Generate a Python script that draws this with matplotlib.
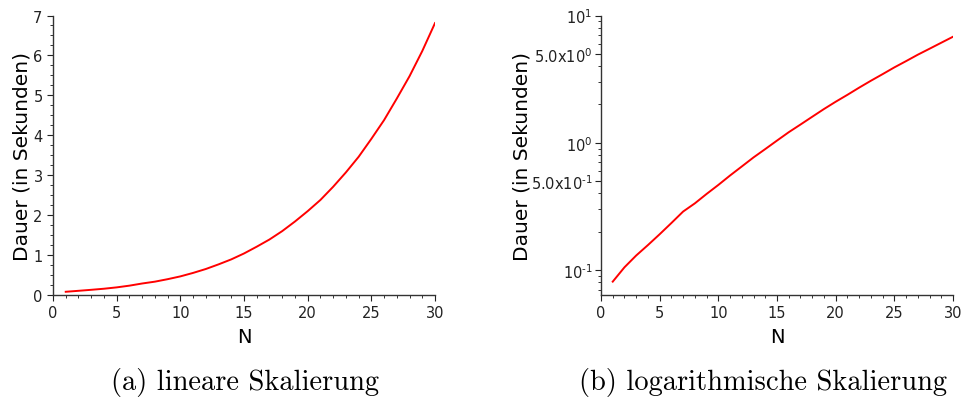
import numpy as np
import matplotlib
matplotlib.use('Agg')
import matplotlib.pyplot as plt
from matplotlib.ticker import FixedLocator, FixedFormatter, MultipleLocator

# Laufzeit in Sekunden fuer N = 1..30
N = np.arange(1, 31)
dauer = [0.081, 0.105, 0.130, 0.157, 0.191, 0.234, 0.288, 0.334, 0.396, 0.466,
         0.553, 0.651, 0.767, 0.892, 1.04, 1.21, 1.39, 1.60, 1.84, 2.10,
         2.38, 2.71, 3.07, 3.46, 3.91, 4.38, 4.92, 5.48, 6.11, 6.81]

log_ticks = [0.1, 0.5, 1, 5, 10]
log_labels = ['$10^{\u20101}$', '5.0x$10^{\u20101}$', '$10^{0}$', '5.0x$10^{0}$', '$10^{1}$']
captions = ['(a) lineare Skalierung', '(b) logarithmische Skalierung']

fig = plt.figure(figsize=(9.62, 4.02), dpi=100)
W, H = 962., 402.
ax1 = fig.add_axes([53/W, 1-296/H, (435-53)/W, (296-16.5)/H])
ax2 = fig.add_axes([601/W, 1-296/H, (953-601)/W, (296-16.5)/H])

def style(ax):
    for s in ['top', 'right']:
        ax.spines[s].set_visible(False)
    for s in ['left', 'bottom']:
        ax.spines[s].set_color('#333333')
        ax.spines[s].set_linewidth(1.0)
    ax.tick_params(which='major', direction='out', length=4, width=0.8,
                   labelsize=10.5, colors='#222222')
    ax.tick_params(which='minor', direction='out', length=2.5, width=0.7, colors='#333333')
    ax.set_xlim(0, 30)
    ax.xaxis.set_major_locator(MultipleLocator(5))
    ax.xaxis.set_minor_locator(MultipleLocator(1))
    ax.set_xlabel('N', fontsize=14, labelpad=5)
    ax.set_ylabel('Dauer (in Sekunden)', fontsize=14.5)

ax1.plot(N, dauer, color='red', lw=1.4)
ax1.set_ylim(0, 7)
ax1.yaxis.set_major_locator(MultipleLocator(1))
ax1.yaxis.set_minor_locator(MultipleLocator(0.25))
style(ax1)
ax1.yaxis.set_label_coords((32-53)/382., 0.5)

ax2.plot(N, dauer, color='red', lw=1.4)
ax2.set_yscale('log')
ax2.set_ylim(0.0636, 10)
ax2.yaxis.set_major_locator(FixedLocator(log_ticks))
ax2.yaxis.set_major_formatter(FixedFormatter(log_labels))
minor = [v * d for d in [0.01, 0.1, 1] for v in range(2, 10)]
minor = [m for m in minor if m not in log_ticks]
ax2.yaxis.set_minor_locator(FixedLocator(minor))
ax2.yaxis.set_minor_formatter(FixedFormatter([''] * len(minor)))
style(ax2)
ax2.tick_params(axis='y', which='major', pad=2)
ax2.yaxis.set_label_coords((532-601)/352., 0.5)

fig.text(245.5/W, 1-383/H, captions[0], family='cmr10', fontsize=20.5, ha='center', va='center')
fig.text(763/W, 1-383/H, captions[1], family='cmr10', fontsize=20.5, ha='center', va='center')

fig.savefig('out.png', dpi=100)
